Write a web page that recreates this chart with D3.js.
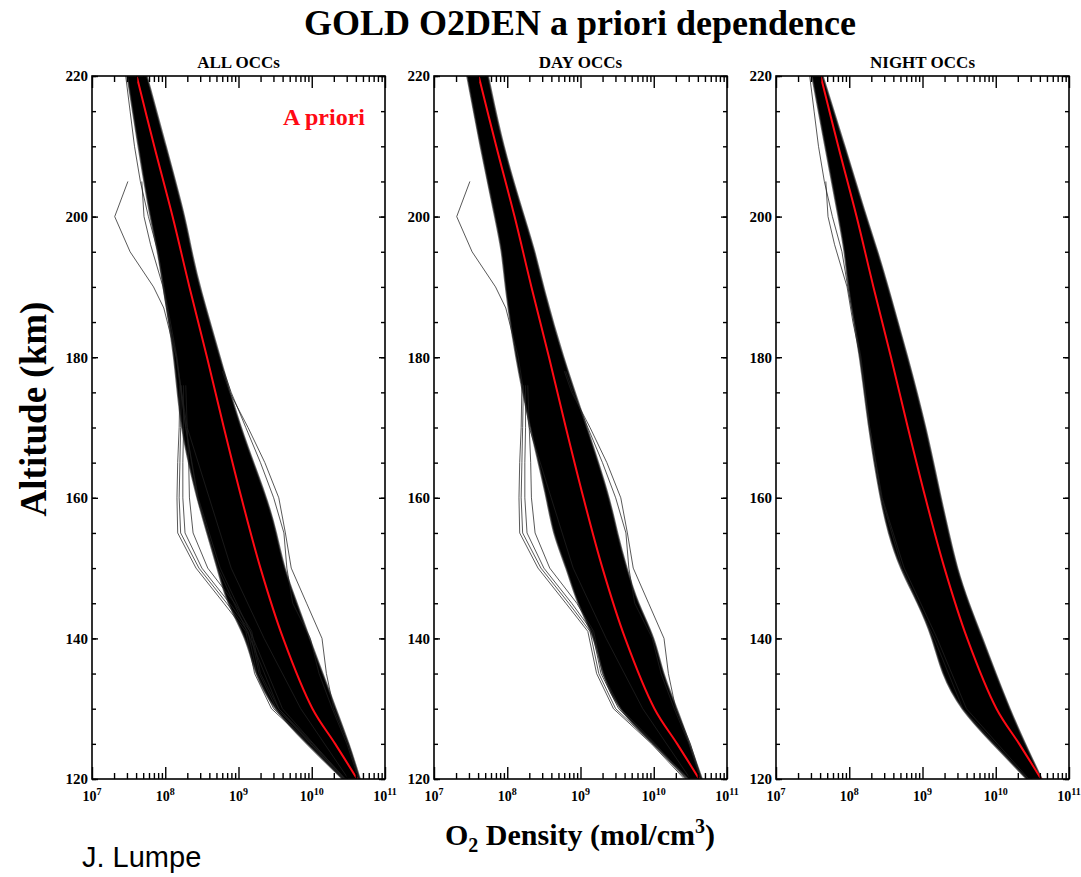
<!DOCTYPE html>
<html>
<head>
<meta charset="utf-8">
<script src="https://cdn.jsdelivr.net/npm/d3@7"></script>
<style>
body { margin: 0; background: #fff; }
text { font-family: "Liberation Serif", "Times New Roman", serif; font-weight: bold; }
</style>
</head>
<body>
<script>

// altitude grid (km) where the band edges were read
var bandAlt = [220, 210, 200, 195, 190, 180, 170, 160, 155, 150, 145, 140, 135, 130, 125, 120];

// log10 O2 density at the left / right edge of the black band, per panel
var allLeft   = [7.48, 7.63, 7.79, 7.90, 7.97, 8.13, 8.20, 8.43, 8.57, 8.71, 8.84, 9.11, 9.22, 9.47, 9.93, 10.42];
var allRight  = [7.75, 8.01, 8.27, 8.36, 8.47, 8.75, 9.02, 9.39, 9.52, 9.62, 9.80, 9.97, 10.15, 10.33, 10.51, 10.66];
var dayLeft   = [7.45, 7.63, 7.83, 7.93, 7.97, 8.11, 8.31, 8.54, 8.62, 8.81, 8.95, 9.20, 9.29, 9.50, 9.99, 10.47];
var dayRight  = [7.74, 7.94, 8.23, 8.38, 8.49, 8.76, 9.09, 9.40, 9.50, 9.63, 9.78, 10.02, 10.12, 10.32, 10.49, 10.66];
var nightLeft = [7.49, 7.67, 7.85, 7.94, 7.98, 8.15, 8.26, 8.42, 8.53, 8.69, 8.94, 9.14, 9.26, 9.51, 9.96, 10.42];
var nightRight= [7.64, 7.94, 8.23, 8.39, 8.53, 8.80, 9.05, 9.25, 9.36, 9.47, 9.63, 9.82, 10.00, 10.19, 10.40, 10.63];

// a priori profile (red)
var aprioriAlt = [220, 210, 200, 190, 180, 170, 160, 150, 140, 130, 125, 120];
var aprioriLog = [7.61, 7.85, 8.10, 8.33, 8.57, 8.80, 9.04, 9.30, 9.61, 10.01, 10.32, 10.62];

// day profiles that stick out of the band
var zigAlt = [205, 200, 195, 190, 187, 180, 170, 160, 150, 140, 130, 120];
var zigLog = [7.49, 7.31, 7.52, 7.84, 7.98, 8.15, 8.30, 8.60, 8.90, 9.35, 9.85, 10.50];

var kinkAlt = [176, 170, 165, 160, 155, 150, 145, 141, 135, 130, 125, 120];
var kink1 = [8.20, 8.19, 8.17, 8.16, 8.17, 8.42, 8.80, 9.10, 9.22, 9.45, 9.97, 10.42];
var kink2 = [8.22, 8.21, 8.20, 8.19, 8.21, 8.46, 8.84, 9.13, 9.25, 9.48, 9.99, 10.44];
var kink3 = [8.25, 8.25, 8.24, 8.24, 8.27, 8.50, 8.88, 9.16, 9.28, 9.52, 10.01, 10.45];
var kink4 = [8.28, 8.30, 8.32, 8.33, 8.38, 8.58, 8.95, 9.18, 9.30, 9.55, 10.02, 10.46];

var bulgeAlt = [178, 175, 170, 165, 160, 155, 150, 145, 140, 135, 130, 125, 120];
var bulge1 = [8.78, 8.88, 9.13, 9.36, 9.55, 9.64, 9.72, 9.93, 10.14, 10.20, 10.30, 10.50, 10.65];
var bulge2 = [8.80, 8.90, 9.10, 9.30, 9.48, 9.62, 9.66, 9.74, 9.98, 10.10, 10.28, 10.48, 10.64];

// night profiles at the left edge near the top
var nightAlt = [205, 200, 196, 190, 185, 180, 170, 160, 150, 140, 130, 120];
var night1 = [7.68, 7.71, 7.80, 7.97, 8.05, 8.15, 8.28, 8.45, 8.75, 9.20, 9.60, 10.45];
var night2Alt = [220, 215, 210, 205, 200, 195, 190, 180, 170, 160, 150, 140, 130, 120];
var night2 = [7.46, 7.52, 7.58, 7.66, 7.77, 7.90, 7.98, 8.16, 8.28, 8.44, 8.72, 9.16, 9.55, 10.43];

var panelTitles = ["ALL OCCs", "DAY OCCs", "NIGHT OCCs"];
var xTickExp = [7, 8, 9, 10, 11];
var yTicks = [120, 140, 160, 180, 200, 220];

var dayLines = [[zigAlt, zigLog], [kinkAlt, kink1], [kinkAlt, kink2], [kinkAlt, kink3], [kinkAlt, kink4],
                [bulgeAlt, bulge1], [bulgeAlt, bulge2]];
var nightLines = [[nightAlt, night1], [night2Alt, night2]];

var panels = [
  {title: panelTitles[0], left: allLeft, right: allRight, lines: dayLines.concat(nightLines)},
  {title: panelTitles[1], left: dayLeft, right: dayRight, lines: dayLines},
  {title: panelTitles[2], left: nightLeft, right: nightRight, lines: nightLines}
];

var panelX = [92, 434, 776],
    panelW = 293,
    plotTop = 76,
    plotH = 703;

var x = d3.scaleLog().domain([1e7, 1e11]).range([0, panelW]);
var y = d3.scaleLinear().domain([120, 220]).range([plotH, 0]);

function zip(alts, logs) {
  return alts.map(function(a, i) { return {alt: a, v: Math.pow(10, logs[i])}; });
}

var svg = d3.select("body").append("svg")
    .attr("width", 1081)
    .attr("height", 877);

svg.append("text")
    .attr("x", 580)
    .attr("y", 35)
    .style("text-anchor", "middle")
    .style("font-size", "36px")
    .text("GOLD O2DEN a priori dependence");

// the many profiles are drawn as one filled band, smoothed a bit
var band = d3.area()
    .curve(d3.curveBasis)
    .y(function(d) { return y(d.alt); })
    .x0(function(d) { return x(d.l); })
    .x1(function(d) { return x(d.r); });

var line = d3.line()
    .y(function(d) { return y(d.alt); })
    .x(function(d) { return x(d.v); });

var smooth = d3.line()
    .curve(d3.curveCatmullRom)
    .y(function(d) { return y(d.alt); })
    .x(function(d) { return x(d.v); });

var decades = xTickExp.map(function(e) { return Math.pow(10, e); });
var minorX = x.ticks().filter(function(t) { return decades.indexOf(t) < 0; });

panels.forEach(function(p, i) {
  var g = svg.append("g")
      .attr("transform", "translate(" + panelX[i] + "," + plotTop + ")");

  g.append("clipPath").attr("id", "clip" + i)
    .append("rect").attr("width", panelW).attr("height", plotH);

  var plot = g.append("g").attr("clip-path", "url(#clip" + i + ")");

  var edges = bandAlt.map(function(a, k) {
    return {alt: a, l: Math.pow(10, p.left[k]), r: Math.pow(10, p.right[k])};
  });

  plot.append("path")
      .datum(edges)
      .attr("d", band)
      .style("fill", "#000")
      .style("stroke", "#333")
      .style("stroke-width", 1.6)
      .style("stroke-opacity", 0.7);

  plot.selectAll(".profile")
      .data(p.lines)
    .enter().append("path")
      .attr("class", "profile")
      .attr("d", function(d) { return line(zip(d[0], d[1])); })
      .style("fill", "none")
      .style("stroke", "#222")
      .style("stroke-width", 1)
      .style("stroke-opacity", 0.75);

  plot.append("path")
      .datum(zip(aprioriAlt, aprioriLog))
      .attr("d", smooth)
      .style("fill", "none")
      .style("stroke", "#ff0a14")
      .style("stroke-width", 2);

  // ticks, all pointing into the box
  var axes = [
    d3.axisBottom(x).tickValues(decades).tickSize(-12),
    d3.axisBottom(x).tickValues(minorX).tickSize(-6),
    d3.axisTop(x).tickValues(decades).tickSize(-12),
    d3.axisTop(x).tickValues(minorX).tickSize(-6)
  ];
  axes.forEach(function(ax, k) {
    g.append("g")
        .attr("class", "x axis")
        .attr("transform", "translate(0," + (k < 2 ? plotH : 0) + ")")
        .call(ax.tickFormat(""));
  });

  g.append("g").attr("class", "y axis")
      .call(d3.axisLeft(y).tickValues(yTicks).tickSize(-6).tickPadding(4));
  g.append("g").attr("class", "y axis")
      .call(d3.axisLeft(y).tickValues(d3.range(120, 221, 5)).tickSize(-4).tickFormat(""));
  g.append("g").attr("class", "y axis")
      .attr("transform", "translate(" + panelW + ",0)")
      .call(d3.axisRight(y).tickValues(yTicks).tickSize(-6).tickFormat(""));
  g.append("g").attr("class", "y axis")
      .attr("transform", "translate(" + panelW + ",0)")
      .call(d3.axisRight(y).tickValues(d3.range(120, 221, 5)).tickSize(-4).tickFormat(""));

  g.selectAll(".axis .domain").remove();
  g.selectAll(".axis line").style("stroke", "#000").style("stroke-width", 1.4);
  g.selectAll(".y.axis text")
      .style("font-family", "'Liberation Serif', serif")
      .style("font-weight", "bold")
      .style("font-size", "15px");

  var lab = g.selectAll(".xlab")
      .data(xTickExp)
    .enter().append("text")
      .attr("class", "xlab")
      .attr("x", function(d) { return x(Math.pow(10, d)); })
      .attr("y", plotH + 22)
      .style("text-anchor", "middle")
      .style("font-size", "14px");
  lab.append("tspan").text("10");
  lab.append("tspan")
      .attr("dy", -6)
      .style("font-size", "10px")
      .text(function(d) { return d; });

  g.append("rect")
      .attr("width", panelW)
      .attr("height", plotH)
      .style("fill", "none")
      .style("stroke", "#000")
      .style("stroke-width", 1.6);

  g.append("text")
      .attr("x", panelW / 2)
      .attr("y", -8)
      .style("text-anchor", "middle")
      .style("font-size", "17px")
      .text(p.title);

  if (i == 0) {
    g.append("text")
        .attr("x", 191)
        .attr("y", 49)
        .style("fill", "#ff0a14")
        .style("font-size", "24px")
        .text("A priori");
  }
});

svg.append("text")
    .attr("transform", "translate(46,409) rotate(-90)")
    .style("text-anchor", "middle")
    .style("font-size", "37px")
    .text("Altitude (km)");

var xl = svg.append("text")
    .attr("x", 580)
    .attr("y", 845)
    .style("text-anchor", "middle")
    .style("font-size", "30px");
xl.append("tspan").text("O");
xl.append("tspan").attr("dy", 7).style("font-size", "20px").text("2");
xl.append("tspan").attr("dy", -7).text(" Density (mol/cm");
xl.append("tspan").attr("dy", -12).style("font-size", "20px").text("3");
xl.append("tspan").attr("dy", 12).text(")");

svg.append("text")
    .attr("x", 82)
    .attr("y", 867)
    .style("font-family", "'Liberation Sans', Arial, sans-serif")
    .style("font-weight", "normal")
    .style("font-size", "29px")
    .text("J. Lumpe");

</script>
</body>
</html>
